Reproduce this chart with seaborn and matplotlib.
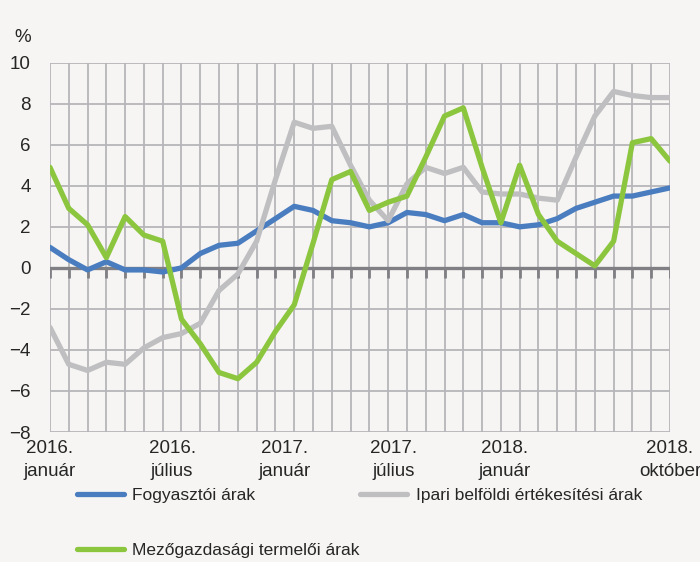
import numpy as np
import pandas as pd
import matplotlib
matplotlib.use('Agg')
import matplotlib.pyplot as plt
import seaborn as sns

# monthly data, 2016 January .. 2018 October
fogyasztoi = [1.0, 0.4, -0.1, 0.3, -0.1, -0.1, -0.2, 0.0, 0.7, 1.1, 1.2, 1.8,
              2.4, 3.0, 2.8, 2.3, 2.2, 2.0, 2.2, 2.7, 2.6, 2.3, 2.6, 2.2,
              2.2, 2.0, 2.1, 2.4, 2.9, 3.2, 3.5, 3.5, 3.7, 3.9]
ipari = [-2.9, -4.7, -5.0, -4.6, -4.7, -3.9, -3.4, -3.2, -2.7, -1.1, -0.3, 1.3,
         4.3, 7.1, 6.8, 6.9, 5.0, 3.3, 2.3, 4.1, 4.9, 4.6, 4.9, 3.7,
         3.6, 3.6, 3.4, 3.3, 5.4, 7.4, 8.6, 8.4, 8.3, 8.3]
mezogazdasagi = [4.9, 2.9, 2.1, 0.5, 2.5, 1.6, 1.3, -2.5, -3.7, -5.1, -5.4, -4.6,
                 -3.1, -1.8, 1.2, 4.3, 4.7, 2.8, 3.2, 3.5, 5.4, 7.4, 7.8, 4.9,
                 2.2, 5.0, 2.6, 1.3, 0.7, 0.1, 1.3, 6.1, 6.3, 5.2]
series_names = ['Fogyasztói árak', 'Ipari belföldi értékesítési árak', 'Mezőgazdasági termelői árak']
colors = ['#4a7dc0', '#bfbfc1', '#8cc63f']
tick_pos = [0, 6.5, 12.5, 18.3, 24.2, 33]
tick_labels = ['2016.\njanuár', '2016.\njúlius', '2017.\njanuár', '2017.\njúlius', '2018.\njanuár', '2018.\noktóber']

months = np.arange(len(fogyasztoi))
df = pd.DataFrame({'month': np.tile(months, 3),
                   'value': fogyasztoi + ipari + mezogazdasagi,
                   'series': np.repeat(series_names, len(months))})

bg = '#f6f5f3'
grid_c = '#b6b6ba'
sns.set_theme(style='white')
plt.rcParams['font.family'] = ['Liberation Sans', 'DejaVu Sans']

fig = plt.figure(figsize=(7, 5.62), dpi=100, facecolor=bg)
ax = fig.add_axes([0.0714, 0.2313, 0.8857, 0.6571], facecolor=bg)

# grid: every 2 units and every month
ax.hlines(np.arange(-8, 11, 2), 0, 33, color=grid_c, lw=1.3, zorder=1)
ax.vlines(months, -8, 10, color=grid_c, lw=1.3, zorder=1)
for s in ax.spines.values():
    s.set_visible(False)

# zero line with small ticks hanging down
ax.axhline(0, color='#808084', lw=2.4, zorder=2)
ax.vlines(months, -0.5, 0, color='#808084', lw=2.0, zorder=2)

for name, c in zip(series_names, colors):
    sns.lineplot(data=df[df['series'] == name], x='month', y='value', color=c,
                 lw=3.8, ax=ax, label=name, legend=False, zorder=3)

ax.set_xlim(0, 33)
ax.set_ylim(-8, 10)
ax.set_xlabel('')
ax.set_ylabel('')
ax.set_yticks(np.arange(-8, 11, 2))
ax.set_xticks(tick_pos)
ax.set_xticklabels(tick_labels, fontsize=13.5, linespacing=1.4)
ax.tick_params(axis='x', length=0, pad=6)
ax.tick_params(axis='y', length=0, pad=14, labelsize=13.5)
ax.text(-0.03, 1.045, '%', transform=ax.transAxes, fontsize=13.5, ha='right', va='bottom')

handles = {l.get_label(): l for l in ax.get_lines()}
order = [series_names[0], series_names[2], series_names[1]]
fig.legend([handles[n] for n in order], order, ncol=2, loc='upper left',
           bbox_to_anchor=(0.1, 0.145), frameon=False, fontsize=12.5,
           handlelength=2.7, handletextpad=0.5, columnspacing=0.0,
           labelspacing=2.3, borderaxespad=0)

fig.savefig('out.png', dpi=100, facecolor=bg)
